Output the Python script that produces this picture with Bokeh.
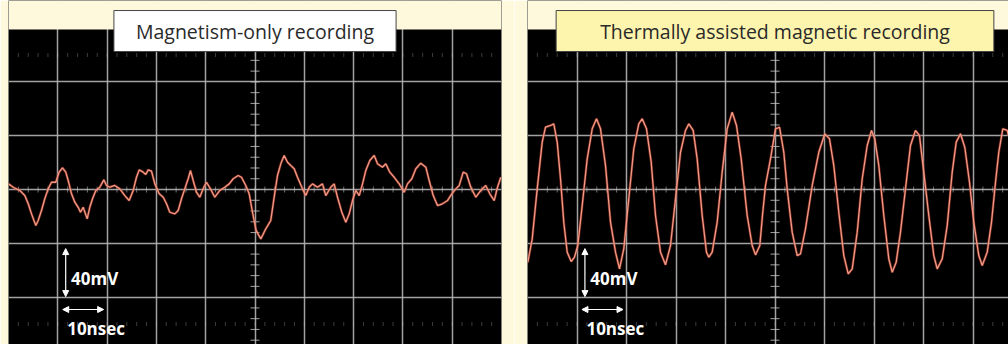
import numpy as np
from bokeh.plotting import figure
from bokeh.layouts import row
from bokeh.models import Label, Arrow, NormalHead, Grid, FixedTicker, Range1d, BoxAnnotation
from bokeh.embed import file_html
from bokeh.resources import INLINE

# ---- data (time in ns, signal in mV; 10 ns/div, 40 mV/div) ----
left_title = "Magnetism-only recording"
right_title = "Thermally assisted magnetic recording"

left_t = [0.0, 0.95, 2.29, 3.31, 4.0, 4.67, 5.54, 6.02, 6.69, 7.36,
          8.05, 8.72, 9.59, 10.28, 10.95, 11.62, 12.11, 12.78, 13.45, 14.14,
          14.6, 15.15, 15.96, 16.49, 17.04, 17.71, 18.52, 19.33, 19.88, 20.55,
          21.56, 22.58, 23.59, 24.48, 25.29, 25.96, 26.51, 27.32, 27.85, 28.34,
          29.01, 29.68, 30.57, 31.38, 32.05, 32.72, 33.73, 34.42, 35.09, 35.76,
          36.45, 36.92, 37.46, 38.13, 38.8, 39.61, 40.16, 40.97, 41.85, 42.86,
          43.87, 44.77, 45.58, 46.59, 47.26, 48.13, 48.82, 49.5, 50.2, 50.6,
          51.18, 52.19, 53.2, 53.89, 54.56, 55.23, 55.92, 56.59, 57.26, 57.95,
          58.62, 59.63, 60.3, 60.99, 61.66, 62.68, 63.69, 64.36, 65.37, 66.06,
          66.73, 67.61, 68.42, 69.11, 69.78, 70.45, 71.14, 71.81, 72.47, 73.29,
          74.18, 74.85, 75.86, 76.53, 77.34, 78.24, 79.25, 80.26, 80.93, 81.81,
          82.62, 83.63, 84.65, 85.33, 86.15, 87.02, 88.03, 89.05, 89.92, 90.73,
          91.42, 92.23, 92.9, 93.77, 94.79, 95.8, 96.81, 97.63, 98.52, 99.19,
          99.86]
left_mv = [4.2, 1.7, -0.7, -4.5, -10.6, -18.1, -26.8, -23.0, -15.6, -6.9,
           0.5, 5.4, 5.4, 12.9, 16.1, 12.9, 6.7, -3.2, -9.4, -13.2,
           -16.9, -13.2, -21.8, -13.2, -6.9, -0.7, 1.7, 7.2, 3.0, 1.7,
           3.0, 0.5, -4.5, -8.2, -0.7, 9.1, 14.6, 12.9, 11.2, 14.6,
           13.6, 4.2, -3.2, -5.7, -10.6, -16.9, -18.1, -15.6, -6.9, 0.5,
           8.0, 14.1, 6.7, -2.0, -5.7, 1.7, 5.4, 0.5, -5.7, -0.7,
           1.7, 4.2, 8.0, 10.4, 9.1, 3.0, -3.2, -17.0, -30.0, -33.0,
           -36.7, -29.2, -23.0, -5.7, 10.4, 19.1, 25.3, 20.3, 17.8, 15.4,
           9.1, 0.5, -4.5, 1.7, 4.2, 1.7, 4.2, -4.5, 1.7, 4.2,
           -5.7, -16.9, -24.3, -18.1, -8.2, -0.7, -4.5, 4.2, 14.1, 21.6,
           25.3, 19.1, 16.6, 19.1, 12.9, 9.1, 4.2, -2.0, 4.2, 8.0,
           15.4, 19.6, 16.6, 6.7, -4.5, -11.9, -10.6, -8.2, -3.2, 0.5,
           3.0, 12.9, 11.7, 1.7, -5.7, -0.7, 3.0, -3.2, -8.2, 1.7,
           9.1]

right_t = [0.06, 0.95, 1.96, 2.97, 3.64, 4.65, 5.31, 6.0, 6.67, 7.33,
           8.02, 8.83, 9.49, 10.16, 11.05, 12.06, 13.07, 13.94, 14.75, 15.76,
           16.77, 17.78, 18.59, 19.45, 20.46, 21.47, 22.48, 23.17, 24.04, 24.99,
           25.86, 26.87, 27.88, 28.89, 29.9, 30.91, 31.92, 32.59, 33.47, 34.28,
           35.29, 36.16, 36.63, 37.31, 38.32, 39.33, 40.34, 41.35, 42.22, 43.17,
           44.38, 45.39, 46.06, 46.93, 47.47, 48.08, 49.09, 50.1, 50.91, 51.78,
           52.46, 53.47, 54.48, 55.15, 56.16, 57.52, 58.85, 60.06, 61.01, 61.88,
           62.89, 63.9, 64.79, 65.6, 66.61, 67.62, 68.63, 69.49, 70.16, 70.97,
           71.98, 72.99, 73.68, 74.48, 75.35, 76.36, 77.37, 78.38, 79.19, 80.06,
           81.07, 82.08, 82.77, 83.78, 84.79, 85.8, 86.61, 87.47, 88.34, 89.29,
           90.16, 91.17, 91.86, 92.87, 93.74, 94.55, 95.21, 96.02, 96.91, 97.17]
right_mv = [-54.1, -36.7, 0.5, 35.2, 46.3, 47.6, 48.8, 35.2, 8.0, -24.3,
            -46.6, -53.5, -50.3, -41.6, -11.9, 22.8, 45.1, 52.6, 45.1, 17.8,
            -24.3, -46.6, -59.0, -44.1, -6.9, 30.3, 48.8, 52.6, 45.1, 20.3,
            -19.3, -46.6, -56.0, -41.6, -6.9, 27.7, 43.9, 48.8, 43.9, 22.8,
            -19.3, -46.6, -50.3, -46.6, -24.3, 12.9, 45.1, 57.5, 47.6, 22.8,
            -19.3, -41.6, -48.6, -41.6, -19.3, 3.0, 22.8, 45.1, 46.3, 27.7,
            0.5, -31.7, -49.1, -47.8, -29.2, 3.0, 27.7, 41.4, 37.7, 17.8,
            -16.9, -49.1, -62.7, -59.0, -31.7, 8.0, 32.7, 43.9, 37.7, 17.8,
            -19.3, -51.5, -61.5, -54.1, -31.7, 0.5, 32.7, 43.9, 40.1, 12.9,
            -19.3, -49.1, -59.0, -51.5, -26.8, 12.9, 35.2, 41.4, 31.4, 5.4,
            -24.3, -49.1, -56.5, -46.6, -24.3, 5.4, 27.7, 45.1, 43.9, 40.1]

volt_label = "40mV"
time_label = "10nsec"

BG = "#fef8dc"
GRID = "#b4b4b4"
Y_TOP, Y_BOT = 140.5, -115.2      # visible canvas (screen top is above the scope)
SCREEN_TOP = 118.9                 # top edge of the black scope screen


def make_panel(title, title_fill, pad, t, mv, width, bl, br, xmax):
    p = figure(width=width, height=344,
               x_range=Range1d(0, xmax), y_range=Range1d(Y_BOT, Y_TOP),
               output_backend="svg", toolbar_location=None,
               x_axis_location=None, y_axis_location=None,
               min_border_left=bl, min_border_right=br,
               min_border_top=0, min_border_bottom=0,
               background_fill_color="black", border_fill_color=BG,
               outline_line_color=None)
    for g in p.grid:
        g.visible = False
    p.add_layout(Grid(dimension=0, ticker=FixedTicker(ticks=list(range(10, 100, 10))),
                      grid_line_color=GRID, grid_line_width=1.5, grid_line_alpha=0.9))
    p.add_layout(Grid(dimension=1, ticker=FixedTicker(ticks=[-80, -40, 0, 40, 80]),
                      grid_line_color=GRID, grid_line_width=1.5, grid_line_alpha=0.9))

    # graticule minor marks
    vy = np.arange(-112, 118, 8)
    p.scatter(x=np.full(len(vy), 50.0), y=vy, marker="dash", size=9,
              color="#c8c8c8", alpha=0.8)
    hx = np.arange(2, 100, 2)
    p.scatter(x=hx, y=np.zeros(len(hx)), marker="dash", angle=np.pi / 2, size=6,
              color="#c8c8c8", alpha=0.55)
    for yy in (100, -100):
        p.scatter(x=hx, y=np.full(len(hx), float(yy)), marker="dash", angle=np.pi / 2,
                  size=4, color="#c8c8c8", alpha=0.3)

    # trace
    p.line(t, mv, line_color="#c8402f", line_width=2.6, line_alpha=0.55)
    p.line(t, mv, line_color="#f19b86", line_width=1.3)

    # cream strip above the scope screen
    p.add_layout(BoxAnnotation(bottom=SCREEN_TOP, fill_color=BG, fill_alpha=1.0,
                               line_color=None))

    # title box
    p.add_layout(Label(x=50, y=117.8, text=title, text_align="center",
                       text_baseline="middle", text_font="Open Sans",
                       text_font_size="19.5px", text_color="#2a2a2a",
                       background_fill_color=title_fill, border_line_color="#444444",
                       border_line_width=1, padding=pad))

    def head():
        return NormalHead(size=6, fill_color="white", line_color="white")

    p.add_layout(Arrow(x_start=11.6, y_start=-43.9, x_end=11.6, y_end=-79.6,
                       start=head(), end=head(), line_color="white", line_width=1.2))
    p.add_layout(Arrow(x_start=11.0, y_start=-89.2, x_end=19.3, y_end=-89.2,
                       start=head(), end=head(), line_color="white", line_width=1.2))
    p.add_layout(Label(x=12.7, y=-66.2, text=volt_label, text_baseline="middle",
                       text_font="Open Sans", text_font_style="bold",
                       text_font_size="17px", text_color="white"))
    p.add_layout(Label(x=11.9, y=-103.3, text=time_label, text_baseline="middle",
                       text_font="Open Sans", text_font_style="bold",
                       text_font_size="17px", text_color="white"))
    return p


p1 = make_panel(left_title, "white", (22, 7), left_t, left_mv, 514, 8, 13, 100)
p2 = make_panel(right_title, "#fdf4ad", (44, 7), right_t, right_mv, 494, 13, 0, 481 / 4.95)

layout = row(p1, p2)
open("out.html", "w").write(file_html(layout, INLINE))
